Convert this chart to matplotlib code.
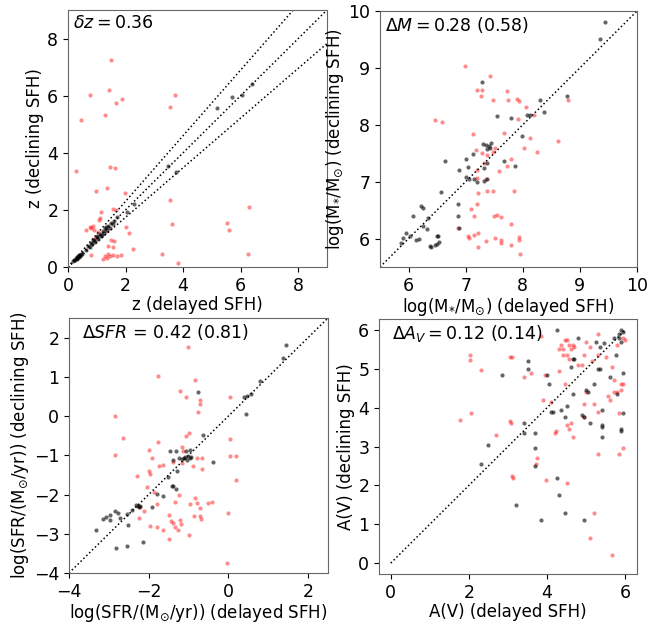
import numpy as np
import matplotlib
matplotlib.use("Agg")
import matplotlib.pyplot as plt

# ---- redshift (panel 1) ----
z_del_red = [1.50, 0.46, 0.78, 1.42, 1.67, 1.86, 1.28, 0.29, 0.98, 1.46, 1.65, 1.36, 1.99,
             3.53, 3.72, 3.53, 3.62, 5.53, 5.58, 6.29, 6.27, 1.58, 1.67, 1.15, 1.09, 1.12,
             0.81, 0.75, 0.90, 0.86, 0.61, 2.02, 2.13, 1.50, 1.61, 1.33, 1.38, 1.55, 2.27,
             0.81, 1.20, 1.30, 1.40, 1.55, 1.70, 1.85, 1.35, 1.45, 3.26, 3.83, 0.95, 1.05]
z_dec_red = [7.24, 5.14, 6.02, 6.19, 5.75, 5.90, 5.32, 3.35, 2.65, 3.50, 3.47, 2.77, 2.59,
             5.61, 6.04, 2.34, 1.52, 1.54, 1.31, 2.10, 0.44, 2.03, 2.01, 1.93, 1.64, 1.70,
             1.35, 1.40, 1.30, 1.45, 1.31, 1.40, 1.19, 0.94, 0.91, 1.26, 0.72, 0.70, 0.63,
             0.43, 0.28, 0.40, 0.45, 0.42, 0.40, 0.41, 0.33, 0.38, 0.47, 0.15, 1.00, 1.22]
z_del_blk = [0.18, 0.22, 0.25, 0.28, 0.30, 0.33, 0.35, 0.38, 0.40, 0.42, 0.45, 0.48, 0.30, 0.36,
             0.62, 0.70, 0.75, 0.80, 0.85, 0.90, 0.95, 1.00, 1.05, 1.10, 1.15, 1.20, 1.25, 1.30,
             1.35, 1.40, 1.45, 1.50, 1.55, 1.60, 1.70, 0.88, 1.02, 1.18, 1.32, 2.05, 2.30,
             3.49, 3.74, 5.18, 5.70, 6.04, 6.39]
z_dec_blk = [0.20, 0.25, 0.24, 0.30, 0.33, 0.31, 0.38, 0.36, 0.43, 0.40, 0.47, 0.46, 0.28, 0.40,
             0.58, 0.72, 0.70, 0.85, 0.80, 0.95, 0.88, 1.05, 0.98, 1.15, 1.10, 1.25, 1.20, 1.35,
             1.28, 1.45, 1.38, 1.55, 1.50, 1.62, 1.75, 0.95, 1.10, 1.12, 1.40, 1.92, 2.20,
             3.53, 3.33, 5.57, 5.96, 6.04, 6.40]

# ---- stellar mass (panel 2) ----
m_del_red = [6.99, 7.42, 7.19, 7.29, 7.26, 7.48, 7.73, 7.74, 7.90, 7.93, 8.05, 8.20, 7.91,
             6.46, 6.59, 7.12, 7.67, 8.02, 8.13, 8.25, 8.61, 8.80, 7.18, 7.29, 7.38, 7.47,
             7.52, 7.32, 7.20, 7.79, 7.73, 7.58, 7.19, 7.36, 7.21, 7.37, 7.47, 7.84, 7.09,
             7.19, 7.15, 7.50, 7.54, 7.61, 7.79, 6.86, 7.04, 7.06, 7.14, 7.22, 7.21, 7.35,
             7.52, 7.61, 7.62, 7.79, 7.93, 7.94, 7.96]
m_dec_red = [9.04, 8.85, 8.61, 8.61, 8.51, 8.44, 8.60, 8.44, 8.46, 8.41, 8.31, 8.18, 8.11,
             8.09, 8.05, 7.84, 7.85, 7.59, 7.77, 7.53, 7.71, 8.44, 7.56, 7.50, 7.47, 7.52,
             7.59, 7.33, 7.21, 7.39, 7.27, 7.18, 7.06, 7.04, 6.80, 6.83, 6.83, 6.83, 6.52,
             6.60, 6.39, 6.39, 6.42, 6.38, 6.26, 6.19, 6.04, 6.01, 6.07, 6.09, 5.85, 5.95,
             6.01, 5.97, 5.92, 5.89, 6.03, 5.97, 5.72]
m_del_blk = [7.29, 7.54, 7.79, 8.30, 8.38, 8.08, 8.13, 8.77, 9.36, 9.44, 7.30, 7.35, 7.41,
             7.45, 7.43, 7.38, 7.12, 7.01, 6.63, 6.89, 7.04, 7.32, 7.38, 7.67, 7.87, 7.98,
             7.00, 7.06, 7.15, 7.19, 7.32, 7.38, 6.57, 6.87, 6.86, 6.88, 6.22, 6.25, 6.08,
             6.34, 6.32, 6.25, 5.96, 6.02, 6.13, 6.19, 5.90, 5.87, 6.50, 6.52, 6.37, 6.40,
             6.46, 6.50, 6.54]
m_dec_blk = [8.76, 8.16, 8.12, 8.44, 8.23, 8.18, 8.18, 8.51, 9.51, 9.80, 7.66, 7.65, 7.63,
             7.68, 7.60, 7.57, 7.49, 7.40, 7.37, 7.21, 7.26, 7.24, 7.33, 7.37, 7.27, 7.80,
             7.09, 7.04, 7.04, 6.99, 7.01, 7.04, 6.81, 6.60, 6.39, 6.19, 6.57, 6.54, 6.39,
             6.36, 6.16, 6.22, 6.10, 6.04, 5.98, 5.99, 6.01, 5.92, 6.05, 6.05, 5.87, 5.86,
             5.88, 5.91, 5.94]

# ---- star formation rate (panel 3) ----
s_del_red = [-2.85, -2.85, -1.76, -1.21, -1.02, -0.85, -1.07, -0.72, -0.71, -0.76, 0.05, 0.05,
             0.05, 0.20, 0.20, -2.64, -1.77, -1.99, -2.30, -1.92, -1.99, -1.97, -1.73, -1.63,
             -1.38, -1.13, -1.06, -0.98, -1.17, -0.79, -0.66, -0.90, -0.66, -1.17, -2.05,
             -1.87, -2.22, -2.24, -2.12, -1.80, -1.97, -1.80, -1.63, -1.50, -1.34, -1.23,
             -1.45, -1.38, -1.34, -1.21, -1.19, -1.27, -1.50, -0.99, -0.97, -0.83, -0.79,
             -0.71, -0.72, -0.68, -0.87, -0.50, -0.41, 0.00, -0.03]
s_dec_red = [-0.01, -0.98, 1.03, 0.65, 1.76, 0.92, 0.48, 0.42, 0.32, 0.11, 0.48, -0.59,
             -1.03, -1.01, -1.64, -0.56, -0.65, -0.86, -1.53, -1.07, -1.39, -1.47, -1.26,
             -1.24, -1.17, -0.88, -0.50, -0.43, -1.19, -1.07, -1.07, -1.26, -1.36, -0.80,
             -1.81, -1.93, -2.33, -2.61, -2.41, -2.25, -2.80, -2.82, -2.90, -2.52, -2.20,
             -2.00, -2.67, -2.72, -2.82, -2.65, -2.74, -2.90, -3.13, -3.03, -2.23, -2.10,
             -2.21, -2.35, -2.54, -2.63, -2.54, -2.21, -2.19, -2.47, -3.75]
s_del_blk = [-0.76, 0.43, 1.44, 1.38, 0.79, 0.57, 0.47, 0.40, -0.64, -0.39, -1.46, -1.32,
             -1.07, -0.96, -1.17, -1.12, -1.08, -1.04, -1.02, -0.97, -0.93, -1.38, -1.25,
             -1.52, -1.29, -1.42, -1.38, -1.32, -1.65, -1.80, -2.32, -2.28, -2.25, -2.22,
             -2.42, -2.55, -2.76, -2.85, -2.72, -2.97, -3.06, -3.14, -2.97, -3.31, -2.53,
             -2.81, -2.55, -2.15, -1.92]
s_dec_blk = [0.61, 0.05, 1.80, 1.48, 0.89, 0.57, 0.52, 0.48, -0.49, -1.17, -0.88, -0.88,
             -0.88, -0.86, -1.10, -1.06, -1.04, -1.12, -1.02, -1.08, -1.05, -1.12, -1.08,
             -1.56, -1.39, -1.77, -1.79, -1.85, -2.04, -1.99, -2.27, -2.30, -2.33, -2.28,
             -2.40, -2.50, -2.47, -2.41, -2.61, -2.52, -2.57, -2.63, -2.65, -2.90, -2.78,
             -3.35, -3.32, -3.22, -2.31]

# ---- attenuation (panel 4) ----
a_del_red = [1.78, 2.02, 2.02, 2.05, 2.30, 2.70, 3.05, 3.10, 3.05, 3.07, 3.10, 3.12, 3.40,
             3.60, 3.75, 3.72, 3.90, 3.95, 3.98, 4.10, 4.20, 4.22, 4.40, 4.30, 4.40, 4.50,
             4.55, 4.60, 4.35, 4.45, 4.50, 4.55, 4.65, 4.70, 4.80, 4.50, 4.55, 4.60, 4.65,
             4.45, 4.50, 4.90, 4.95, 5.00, 4.95, 4.95, 5.00, 5.10, 5.15, 5.20, 5.10, 5.30,
             5.30, 5.20, 5.30, 5.30, 5.60, 5.55, 5.65, 5.70, 5.70, 5.80, 5.85, 5.85, 5.90,
             5.90, 5.95, 5.95, 6.00, 5.80, 5.95, 5.65, 3.85, 4.30, 5.50]
a_dec_red = [3.67, 5.35, 5.22, 3.85, 4.98, 3.30, 5.30, 5.30, 3.65, 3.60, 2.25, 2.20, 4.80,
             4.90, 2.70, 2.55, 4.20, 4.85, 2.15, 4.15, 3.35, 3.40, 5.50, 5.50, 5.35, 5.35,
             5.60, 5.50, 5.60, 5.75, 5.75, 5.25, 5.60, 5.55, 5.10, 3.55, 3.45, 3.60, 3.25,
             4.60, 2.05, 5.10, 5.35, 5.70, 4.10, 3.75, 4.40, 5.55, 5.20, 1.30, 0.65, 5.90,
             5.35, 4.10, 3.90, 2.80, 4.20, 4.30, 5.05, 4.70, 4.40, 4.40, 3.85, 2.80, 4.60,
             4.45, 4.60, 5.80, 5.75, 5.60, 2.95, 0.20, 5.85, 4.95, 5.30]
a_del_blk = [2.50, 2.30, 2.85, 3.20, 3.40, 3.40, 3.50, 3.50, 3.70, 3.70, 3.70, 3.85, 4.00,
             4.05, 4.10, 4.15, 4.25, 4.25, 4.30, 4.35, 4.45, 4.50, 4.45, 4.60, 4.65, 4.70,
             4.65, 4.80, 4.90, 4.95, 4.95, 5.00, 5.05, 5.10, 5.20, 5.25, 5.30, 5.35, 5.35,
             5.40, 5.40, 5.40, 5.40, 5.45, 5.60, 5.70, 5.75, 5.80, 5.85, 5.90, 5.90, 5.95,
             5.90, 5.90, 5.95, 5.95, 5.85]
a_dec_blk = [3.05, 2.55, 4.85, 1.50, 3.60, 3.35, 5.20, 5.00, 3.35, 2.95, 2.50, 1.10, 4.85,
             4.60, 3.90, 3.90, 6.00, 2.20, 1.75, 3.95, 3.75, 4.05, 1.30, 5.05, 5.25, 5.25,
             4.35, 5.80, 3.80, 3.75, 1.10, 4.45, 4.40, 3.60, 4.60, 5.70, 5.00, 5.00, 5.55,
             3.50, 3.55, 3.25, 3.95, 5.65, 4.80, 5.80, 5.35, 4.35, 5.90, 6.00, 5.70, 5.95,
             3.45, 3.40, 4.90, 3.85, 5.80]

plt.rcParams['font.size'] = 12.5
fig = plt.figure(figsize=(6.71, 6.28), dpi=100)

W, H = 671.0, 628.0
def make_ax(l, t, r, b):
    return fig.add_axes([l / W, 1 - b / H, (r - l) / W, (b - t) / H])

ax1 = make_ax(68, 10, 327, 267)
ax2 = make_ax(380, 11, 637, 267)
ax3 = make_ax(69, 318, 328, 573)
ax4 = make_ax(379, 319, 637, 574)

def dots(ax, xr, yr, xb, yb):
    ax.scatter(xr, yr, s=9, c='red', alpha=0.45, linewidths=0)
    ax.scatter(xb, yb, s=9, c='black', alpha=0.6, linewidths=0)
    for sp in ax.spines.values():
        sp.set_color('#666666')

# panel 1
dots(ax1, z_del_red, z_dec_red, z_del_blk, z_dec_blk)
xx = np.array([0, 9.0])
ax1.plot(xx, xx, 'k:', lw=1.1)
ax1.plot(xx, xx * 1.15, 'k:', lw=1.1)
ax1.plot(xx, xx / 1.15, 'k:', lw=1.1)
ax1.set_xlim(0, 9)
ax1.set_ylim(0, 9)
ax1.set_xticks([0, 2, 4, 6, 8])
ax1.set_yticks([0, 2, 4, 6, 8])
ax1.set_xlabel('z (delayed SFH)', fontsize=12, labelpad=1)
ax1.set_ylabel('z (declining SFH)', fontsize=12, labelpad=2)
ax1.text(0.02, 0.985, r'$\delta z = 0.36$', transform=ax1.transAxes, va='top', fontsize=12.5)

# panel 2
dots(ax2, m_del_red, m_dec_red, m_del_blk, m_dec_blk)
ax2.plot([5.5, 10], [5.5, 10], 'k:', lw=1.1)
ax2.set_xlim(5.5, 10)
ax2.set_ylim(5.5, 10)
ax2.set_xticks([6, 7, 8, 9, 10])
ax2.set_yticks([6, 7, 8, 9, 10])
ax2.set_xlabel(r'log(M$_{*}$/M$_{\odot}$) (delayed SFH)', fontsize=12, labelpad=1)
ax2.set_ylabel(r'log(M$_{*}$/M$_{\odot}$) (declining SFH)', fontsize=12, labelpad=2)
ax2.text(0.02, 0.985, r'$\Delta M = 0.28$ (0.58)', transform=ax2.transAxes, va='top', fontsize=12.5)

# panel 3
dots(ax3, s_del_red, s_dec_red, s_del_blk, s_dec_blk)
ax3.plot([-4, 2.5], [-4, 2.5], 'k:', lw=1.1)
ax3.set_xlim(-4, 2.5)
ax3.set_ylim(-4, 2.5)
ax3.set_xticks([-4, -2, 0, 2])
ax3.set_yticks([-4, -3, -2, -1, 0, 1, 2])
ax3.set_xlabel(r'log(SFR/(M$_{\odot}$/yr)) (delayed SFH)', fontsize=12, labelpad=1)
ax3.set_ylabel(r'log(SFR/(M$_{\odot}$/yr)) (declining SFH)', fontsize=12, labelpad=2)
ax3.text(0.05, 0.985, r'$\Delta SFR$ = 0.42 (0.81)', transform=ax3.transAxes, va='top', fontsize=12.5)

# panel 4
dots(ax4, a_del_red, a_dec_red, a_del_blk, a_dec_blk)
ax4.plot([0, 6], [0, 6], 'k:', lw=1.1)
ax4.set_xlim(-0.3, 6.3)
ax4.set_ylim(-0.28, 6.28)
ax4.set_xticks([0, 2, 4, 6])
ax4.set_yticks([0, 1, 2, 3, 4, 5, 6])
ax4.set_xlabel('A(V) (delayed SFH)', fontsize=12, labelpad=1)
ax4.set_ylabel('A(V) (declining SFH)', fontsize=12, labelpad=2)
ax4.text(0.05, 0.985, r'$\Delta A_V = 0.12$ (0.14)', transform=ax4.transAxes, va='top', fontsize=12.5)

fig.savefig('out.png', dpi=100)
